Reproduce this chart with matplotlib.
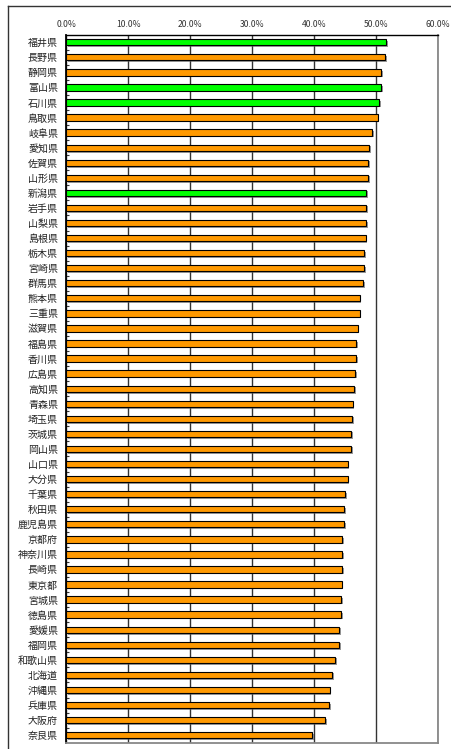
import matplotlib
matplotlib.use("Agg")
import matplotlib.pyplot as plt
import matplotlib.patheffects as pe
from matplotlib.lines import Line2D
from matplotlib.ticker import PercentFormatter, FixedLocator

plt.rcParams['font.family'] = ['Noto Sans CJK JP', 'DejaVu Sans']

# prefectures, top to bottom
prefs = ["福井県", "長野県", "静岡県", "富山県", "石川県", "鳥取県", "岐阜県", "愛知県",
         "佐賀県", "山形県", "新潟県", "岩手県", "山梨県", "島根県", "栃木県", "宮崎県",
         "群馬県", "熊本県", "三重県", "滋賀県", "福島県", "香川県", "広島県", "高知県",
         "青森県", "埼玉県", "茨城県", "岡山県", "山口県", "大分県", "千葉県", "秋田県",
         "鹿児島県", "京都府", "神奈川県", "長崎県", "東京都", "宮城県", "徳島県", "愛媛県",
         "福岡県", "和歌山県", "北海道", "沖縄県", "兵庫県", "大阪府", "奈良県"]
rates = [51.6, 51.4, 50.8, 50.8, 50.5, 50.2, 49.3, 48.9,
         48.7, 48.7, 48.4, 48.4, 48.4, 48.3, 48.0, 48.0,
         47.9, 47.3, 47.3, 47.0, 46.8, 46.7, 46.6, 46.4,
         46.2, 46.1, 45.9, 45.9, 45.4, 45.4, 45.0, 44.8,
         44.8, 44.5, 44.5, 44.5, 44.4, 44.3, 44.3, 44.0,
         44.0, 43.4, 42.9, 42.5, 42.4, 41.8, 39.7]
highlight = ["福井県", "富山県", "石川県", "新潟県"]
xticks = [0, 10, 20, 30, 40, 50, 60]

fig = plt.figure(figsize=(4.52, 7.49), dpi=100)
ax = fig.add_axes([66.3 / 452, 1 - 742.7 / 749, 372 / 452, 708 / 749])

colors = ["#00FF00" if p in highlight else "#FF9900" for p in prefs]
ypos = list(range(len(prefs)))
bars = ax.barh(ypos, rates, height=0.42, color=colors, edgecolor="black",
               linewidth=0.8, zorder=3)
for b in bars:
    b.set_path_effects([pe.SimplePatchShadow(offset=(1.2, -1.2), shadow_rgbFace="#555555", alpha=0.6),
                        pe.Normal()])

ax.set_xlim(0, 60)
ax.set_ylim(len(prefs) - 0.5, -0.5)
ax.set_xticks(xticks)
ax.xaxis.set_major_formatter(PercentFormatter(decimals=1))
ax.xaxis.tick_top()
ax.tick_params(axis="x", length=0, pad=4, labelsize=6.2, labelcolor="#333333")
ax.grid(axis="x", color="#333333", linewidth=1.0, zorder=1)

ax.set_yticks(ypos)
ax.set_yticklabels(prefs)
ax.tick_params(axis="y", which="major", length=0, pad=6, labelsize=7.2, labelcolor="#222222")
ax.yaxis.set_minor_locator(FixedLocator([i + 0.5 for i in range(len(prefs) - 1)]))
ax.tick_params(axis="y", which="minor", direction="in", length=2.2, width=0.8, color="#333333")

ax.spines["left"].set_color("black")
ax.spines["left"].set_linewidth(1.3)
ax.spines["top"].set_color("black")
ax.spines["top"].set_linewidth(1.0)
ax.spines["right"].set_color("#888888")
ax.spines["right"].set_linewidth(1.3)
ax.spines["bottom"].set_color("#888888")
ax.spines["bottom"].set_linewidth(1.3)

# outer chart frame
fig.add_artist(Line2D([8 / 452, 1], [1 - 6 / 749, 1 - 6 / 749], color="#333333", lw=1.0))
fig.add_artist(Line2D([8 / 452, 8 / 452], [0, 1 - 6 / 749], color="#333333", lw=1.0))

fig.savefig("out.png", dpi=100)
